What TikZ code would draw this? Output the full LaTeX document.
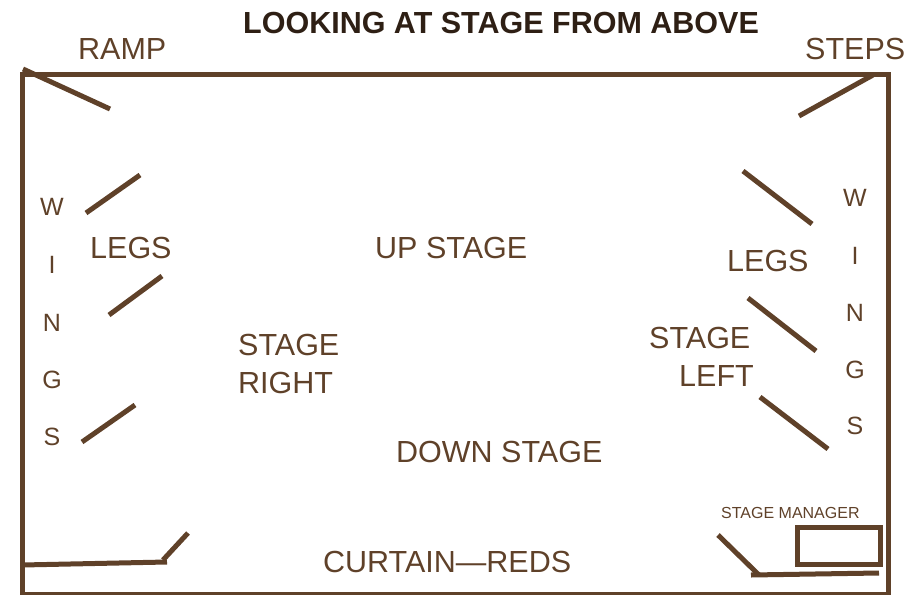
\documentclass[tikz,border=0pt]{standalone}
\usepackage{fontspec}
\setmainfont{Liberation Sans}
\definecolor{stagebrown}{HTML}{5F4129}
\definecolor{titlebrown}{HTML}{2E1F14}
\begin{document}
\begin{tikzpicture}[x=1pt,y=-1pt]
	\tikzstyle{wall}=[draw=stagebrown,line width=5pt]
	\tikzstyle{label}=[anchor=base west,inner sep=0pt,text=stagebrown,font=\fontsize{30.5}{30.5}\selectfont]
	\tikzstyle{wings}=[label,anchor=base,font=\fontsize{25}{25}\selectfont]

	\useasboundingbox (0,0) rectangle (922,595);

	% Draw the stage outline
	\draw[wall] (22,595) -- (22,74) -- (888,74) -- (888,595);
	\draw[draw=stagebrown,line width=3pt] (22,593.5) -- (888,593.5);

	% Draw the ramp and the steps
	\draw[wall] (23,69) -- (110,109);
	\draw[wall] (873,75) -- (799,116);

	% Draw the legs on both sides
	\foreach \xa/\ya/\xb/\yb in {86/213/140/175, 109/315/162/276, 82/442/135/405,
		743/171/812/224, 748/298/816/351, 760/397/828/449}
	\draw[wall] (\xa,\ya) -- (\xb,\yb);

	% Draw the curtain ends
	\draw[wall] (22,565) -- (167,562);
	\draw[wall] (163,560) -- (188,533);
	\draw[wall] (718,535) -- (759,575);
	\draw[wall] (751,575) -- (879,573);

	% Draw the stage manager desk
	\draw[wall] (797,527) rectangle (880,564);

	% Annotate the picture
	\node[label,font=\fontsize{30.5}{30.5}\bfseries\selectfont,text=titlebrown] (title) at (243,33) {LOOKING AT STAGE FROM ABOVE};
	\node[label] (ramp) at (78,59) {RAMP};
	\node[label] (steps) at (805,59) {STEPS};
	\node[label] (legs-r) at (90,258) {LEGS};
	\node[label] (legs-l) at (727,271) {LEGS};
	\node[label] (up) at (375,258) {UP STAGE};
	\node[label] (right-a) at (238,355) {STAGE};
	\node[label] (right-b) at (238,393) {RIGHT};
	\node[label] (left-a) at (649,348) {STAGE};
	\node[label] (left-b) at (679,386) {LEFT};
	\node[label] (down) at (396,462) {DOWN STAGE};
	\node[label] (curtain) at (323,572) {CURTAIN—REDS};
	\node[label,font=\fontsize{16}{16}\selectfont] (manager) at (721,518) {STAGE MANAGER};

	% Draw the letters of the wings
	\foreach \name/\y in {W/215,I/273,N/331,G/388,S/445}
	\node[wings] (wr-\name) at (52,\y) {\name};
	\foreach \name/\y in {W/206,I/264,N/321,G/378,S/434}
	\node[wings] (wl-\name) at (855,\y) {\name};
\end{tikzpicture}
\end{document}
